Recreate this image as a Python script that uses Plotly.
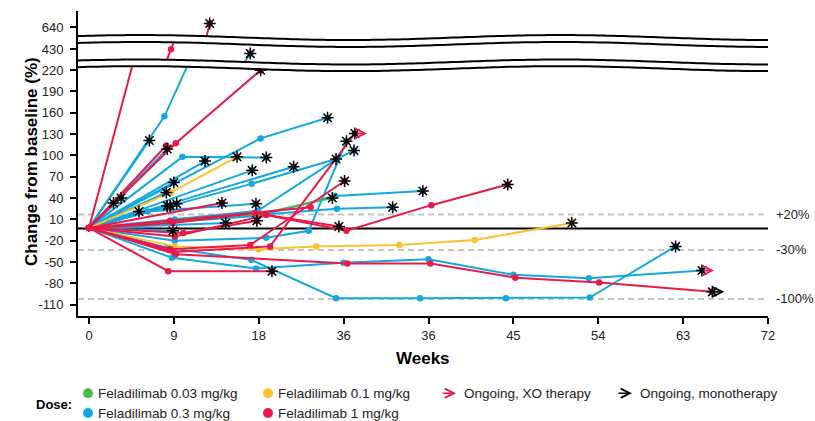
import math
import plotly.graph_objects as go

# ---------------- data ----------------
dose_order = ["0.3", "0.1", "0.03", "1"]          # drawing order (red on top)
dose_names = {"0.03": "Feladilimab 0.03 mg/kg", "0.1": "Feladilimab 0.1 mg/kg",
              "0.3": "Feladilimab 0.3 mg/kg", "1": "Feladilimab 1 mg/kg"}
dose_colors = {"0.03": "#4DB848", "0.1": "#FDC22B", "0.3": "#14A8E0", "1": "#E8194B"}

patient_dose = ["1", "0.3", "1", "0.3", "1", "0.3", "0.3", "0.1", "0.3", "0.3",
                "0.3", "0.3", "0.3", "0.3", "0.3", "0.3", "0.3", "1", "0.3", "0.3",
                "0.3", "0.3", "1", "0.3", "1", "0.03", "0.3", "0.3", "1", "1",
                "1", "0.3", "0.3", "1", "0.3", "0.3", "1", "0.1", "1", "1", "0.3"]

patient_weeks = [
    [0, 8.7, 12.8], [0, 8.0, 17.1], [0, 9.2, 18.2], [0, 6.4], [0, 8.2],
    [0, 8.3], [0, 9.9, 18.8], [0, 8.7, 15.7], [0, 8.2], [0, 9.0],
    [0, 12.3], [0, 17.3], [0, 17.25, 26.2], [0, 21.7], [0, 18.2, 25.3],
    [0, 5.3], [0, 6.2, 17.7], [0, 2.6], [0, 3.4], [0, 8.3],
    [0, 8.6], [0, 9.3], [0, 14.1], [0, 14.5], [0, 10.0, 17.8],
    [0, 18.2, 25.8], [0, 18.0, 26.1, 35.4], [0, 18.2, 26.3, 32.2],
    [0, 9.1, 18.8, 27.3, 36.3, 44.4], [0, 8.6, 17.1, 27.1],
    [0, 9.0, 19.2, 28.2], [0, 9.1, 18.8, 23.3, 27.3], [0, 9.1, 17.9, 26.3, 28.1],
    [0, 8.4, 19.4], [0, 8.3, 17.2, 26.2, 35.1, 44.2, 53.1, 62.2],
    [0, 8.8, 17.7, 27.0, 36.0, 45.0, 53.0, 65.0],
    [0, 9.2, 27.4, 36.2, 45.2, 54.1, 66.1],
    [0, 9.1, 18.0, 24.1, 32.9, 40.9, 51.2], [0, 8.6, 23.5],
    [0, 8.9, 17.6, 26.5], [0, 8.9],
]

patient_change = [
    [-2, 430, 645], [-2, 155, 421], [-2, 117, 220], [-2, 121], [-2, 114],
    [-2, 109], [-2, 98, 97], [-2, 48, 98], [-2, 48], [-2, 62],
    [-2, 92], [-2, 79], [-2, 60, 95], [-2, 84], [-2, 124, 153],
    [-2, 21], [-2, 21, 32], [-2, 33], [-2, 40], [-2, 29],
    [-2, 29], [-2, 32], [-2, 33], [-2, 5], [-2, -9, 8],
    [-2, 18, 40], [-2, 15, 43, 50], [-2, 16, 25, 27],
    [-2, -14, 16, -6, 30, 59], [-2, -32, -26, 64],
    [-2, -36, -28, 131], [-2, -20, -16, -6, 120], [-2, 10, 22, 95, 107],
    [-2, -63, -63], [-2, -30, -47, -101, -101, -101, -100, -28],
    [-2, -44, -59, -51, -46, -68, -73, -62],
    [-2, -39, -52, -52, -72, -79, -92],
    [-2, -28, -32, -28, -26, -19, 5], [-2, 8, 27],
    [-2, 5, 19, 0], [-2, -6],
]

# end-of-line marker: star = progression, xo / mono = ongoing arrows
patient_end = ["star", "star", "star", "star", "none", "star", "star", "star", "star", "star",
               "star", "star", "star", "star", "star", "star", "star", "star", "star", "star",
               "star", "star", "star", "star", "star", "star", "star", "star", "star", "star",
               "star_xo", "star", "star", "star", "star", "star_xo", "star_mono", "star", "none", "star",
               "star"]

x_tick_vals = [0, 9, 18, 27, 36, 45, 54, 63, 72]
x_tick_text = ["0", "9", "18", "36", "36", "45", "54", "63", "72"]
y_low_ticks = [-110, -80, -50, -20, 10, 40, 70, 100, 130, 160, 190, 220]
y_mid_ticks = [430]
y_top_ticks = [640]
ref_values = [17, -33, -102]
ref_labels = ["+20%", "-30%", "-100%"]
zero_value = -3

# ---------------- layout geometry ----------------
W, H = 815, 421
ML, MR, MT, MB = 78, 47, 8, 105
PW, PH = W - ML - MR, H - MT - MB
FONT = "Liberation Sans, Arial, sans-serif"


def pxx(px):
    return (px - ML) / PW


def pxy(py):
    return (H - MB - py) / PH


low_dom = [0, pxy(62.8)]
mid_dom = [pxy(62.8), pxy(38.3)]
top_dom = [pxy(38.3), 1.0]

fig = go.Figure()
axes = ["y", "y2", "y3"]

for dose in dose_order:
    col = dose_colors[dose]
    for i, d in enumerate(patient_dose):
        if d != dose:
            continue
        for ax in axes:
            fig.add_trace(go.Scatter(
                x=patient_weeks[i], y=patient_change[i], xaxis="x", yaxis=ax,
                mode="lines+markers", line=dict(color=col, width=2),
                marker=dict(color=col, size=6.5), showlegend=False, hoverinfo="skip"))

star_x = [patient_weeks[i][-1] for i in range(len(patient_end)) if patient_end[i].startswith("star")]
star_y = [patient_change[i][-1] for i in range(len(patient_end)) if patient_end[i].startswith("star")]
for ax in axes:
    fig.add_trace(go.Scatter(
        x=star_x, y=star_y, xaxis="x", yaxis=ax, mode="markers",
        marker=dict(symbol="asterisk-open", size=10, color="black",
                    line=dict(color="black", width=1.5)),
        showlegend=False, hoverinfo="skip"))

shapes = []
annotations = []

# reference lines
for v in ref_values:
    shapes.append(dict(type="line", xref="paper", yref="y", x0=0, x1=1, y0=v, y1=v,
                       line=dict(color="#C4C4C4", width=2, dash="6px,4px"), layer="below"))
shapes.append(dict(type="line", xref="paper", yref="y", x0=0, x1=1, y0=zero_value, y1=zero_value,
                   line=dict(color="black", width=2), layer="below"))
for v, t in zip(ref_values, ref_labels):
    annotations.append(dict(x=pxx(774), y=v, xref="paper", yref="y", text=t, showarrow=False,
                            xanchor="left", yanchor="middle",
                            font=dict(size=13, color="#222", family=FONT)))


# axis break bands (wavy)
def wave_y(px, center):
    return center - 2.5 * math.cos(2 * math.pi * (px - 140) / 420)


xs = [78 + k * 5 for k in range(139)]
for top_c, bot_c in [(34.8, 41.8), (59.5, 66.2)]:
    fx = [80] + xs[1:]
    top = [(pxx(x), pxy(wave_y(x, top_c))) for x in fx]
    bot = [(pxx(x), pxy(wave_y(x, bot_c))) for x in reversed(fx)]
    path = "M " + " L ".join(f"{a:.5f},{b:.5f}" for a, b in top + bot) + " Z"
    shapes.append(dict(type="path", xref="paper", yref="paper", path=path,
                       fillcolor="white", line=dict(width=0), layer="above"))
    for c in (top_c, bot_c):
        pts = [(pxx(x), pxy(wave_y(x, c))) for x in xs]
        p = "M " + " L ".join(f"{a:.5f},{b:.5f}" for a, b in pts)
        shapes.append(dict(type="path", xref="paper", yref="paper", path=p,
                           line=dict(color="black", width=2), layer="above"))

# ongoing arrows at line ends
for i, e in enumerate(patient_end):
    if e in ("star_xo", "star_mono"):
        col = dose_colors["1"] if e == "star_xo" else "black"
        annotations.append(dict(x=patient_weeks[i][-1], y=patient_change[i][-1], xref="x", yref="y",
                                text="", showarrow=True, arrowhead=5, arrowsize=1.3, arrowwidth=1.4,
                                arrowcolor=col, ax=-12, ay=0, axref="pixel", ayref="pixel", xshift=12))

# axis titles
annotations.append(dict(x=pxx(20), y=pxy(160), xref="paper", yref="paper",
                        text="<b>Change from baseline (%)</b>", textangle=-90, showarrow=False,
                        font=dict(size=17, color="black", family=FONT)))
annotations.append(dict(x=pxx(423), y=pxy(359), xref="paper", yref="paper",
                        text="<b>Weeks</b>", showarrow=False, yanchor="middle",
                        font=dict(size=17, color="black", family=FONT)))

# custom legend
annotations.append(dict(x=pxx(34), y=pxy(405), xref="paper", yref="paper", text="<b>Dose:</b>",
                        showarrow=False, xanchor="left", yanchor="middle",
                        font=dict(size=13, color="black", family=FONT)))
legend_dots = [("0.03", 88, 394), ("0.1", 268, 394), ("0.3", 88, 414), ("1", 268, 414)]
for dose, cx, cy in legend_dots:
    shapes.append(dict(type="circle", xref="paper", yref="paper", xsizemode="pixel", ysizemode="pixel",
                       xanchor=pxx(cx), yanchor=pxy(cy), x0=-5, x1=5, y0=-5, y1=5,
                       fillcolor=dose_colors[dose], line=dict(width=0)))
    annotations.append(dict(x=pxx(cx + 8), y=pxy(cy), xref="paper", yref="paper", text=dose_names[dose],
                            showarrow=False, xanchor="left", yanchor="middle",
                            font=dict(size=13.5, color="#222", family=FONT)))
legend_arrows = [(dose_colors["1"], 441, 394, "Ongoing, XO therapy"), ("black", 617, 394, "Ongoing, monotherapy")]
for col, ax0, ay0, lbl in legend_arrows:
    annotations.append(dict(x=pxx(ax0 + 15), y=pxy(ay0), xref="paper", yref="paper", text="",
                            showarrow=True, arrowhead=5, arrowsize=1.3, arrowwidth=1.4, arrowcolor=col,
                            ax=-15, ay=0, axref="pixel", ayref="pixel"))
    annotations.append(dict(x=pxx(ax0 + 21), y=pxy(ay0), xref="paper", yref="paper", text=lbl,
                            showarrow=False, xanchor="left", yanchor="middle",
                            font=dict(size=13.5, color="#222", family=FONT)))

axis_style = dict(showline=True, linecolor="black", linewidth=2, ticks="outside", ticklen=6,
                  tickwidth=1.5, tickcolor="black", showgrid=False, zeroline=False,
                  tickfont=dict(size=13, color="#222", family=FONT))

fig.update_layout(
    width=W, height=H, margin=dict(l=ML, r=MR, t=MT, b=MB),
    paper_bgcolor="white", plot_bgcolor="white", showlegend=False,
    font=dict(family=FONT),
    xaxis=dict(domain=[0, 1], anchor="y", range=[-1.166, 72], tickvals=x_tick_vals,
               ticktext=x_tick_text, ticklabelstandoff=0, **axis_style),
    yaxis=dict(domain=low_dom, anchor="x", range=[-126, 226.9], tickvals=y_low_ticks,
               ticktext=[str(v) for v in y_low_ticks], ticklabelstandoff=4, **axis_style),
    yaxis2=dict(domain=mid_dom, anchor="x", range=[396.5, 447.5], tickvals=y_mid_ticks,
                ticktext=[str(v) for v in y_mid_ticks], ticklabelstandoff=4, **axis_style),
    yaxis3=dict(domain=top_dom, anchor="x", range=[620.8, 662.3], tickvals=y_top_ticks,
                ticktext=[str(v) for v in y_top_ticks], ticklabelstandoff=4, **axis_style),
    shapes=shapes, annotations=annotations,
)

fig.write_html("out.html")
